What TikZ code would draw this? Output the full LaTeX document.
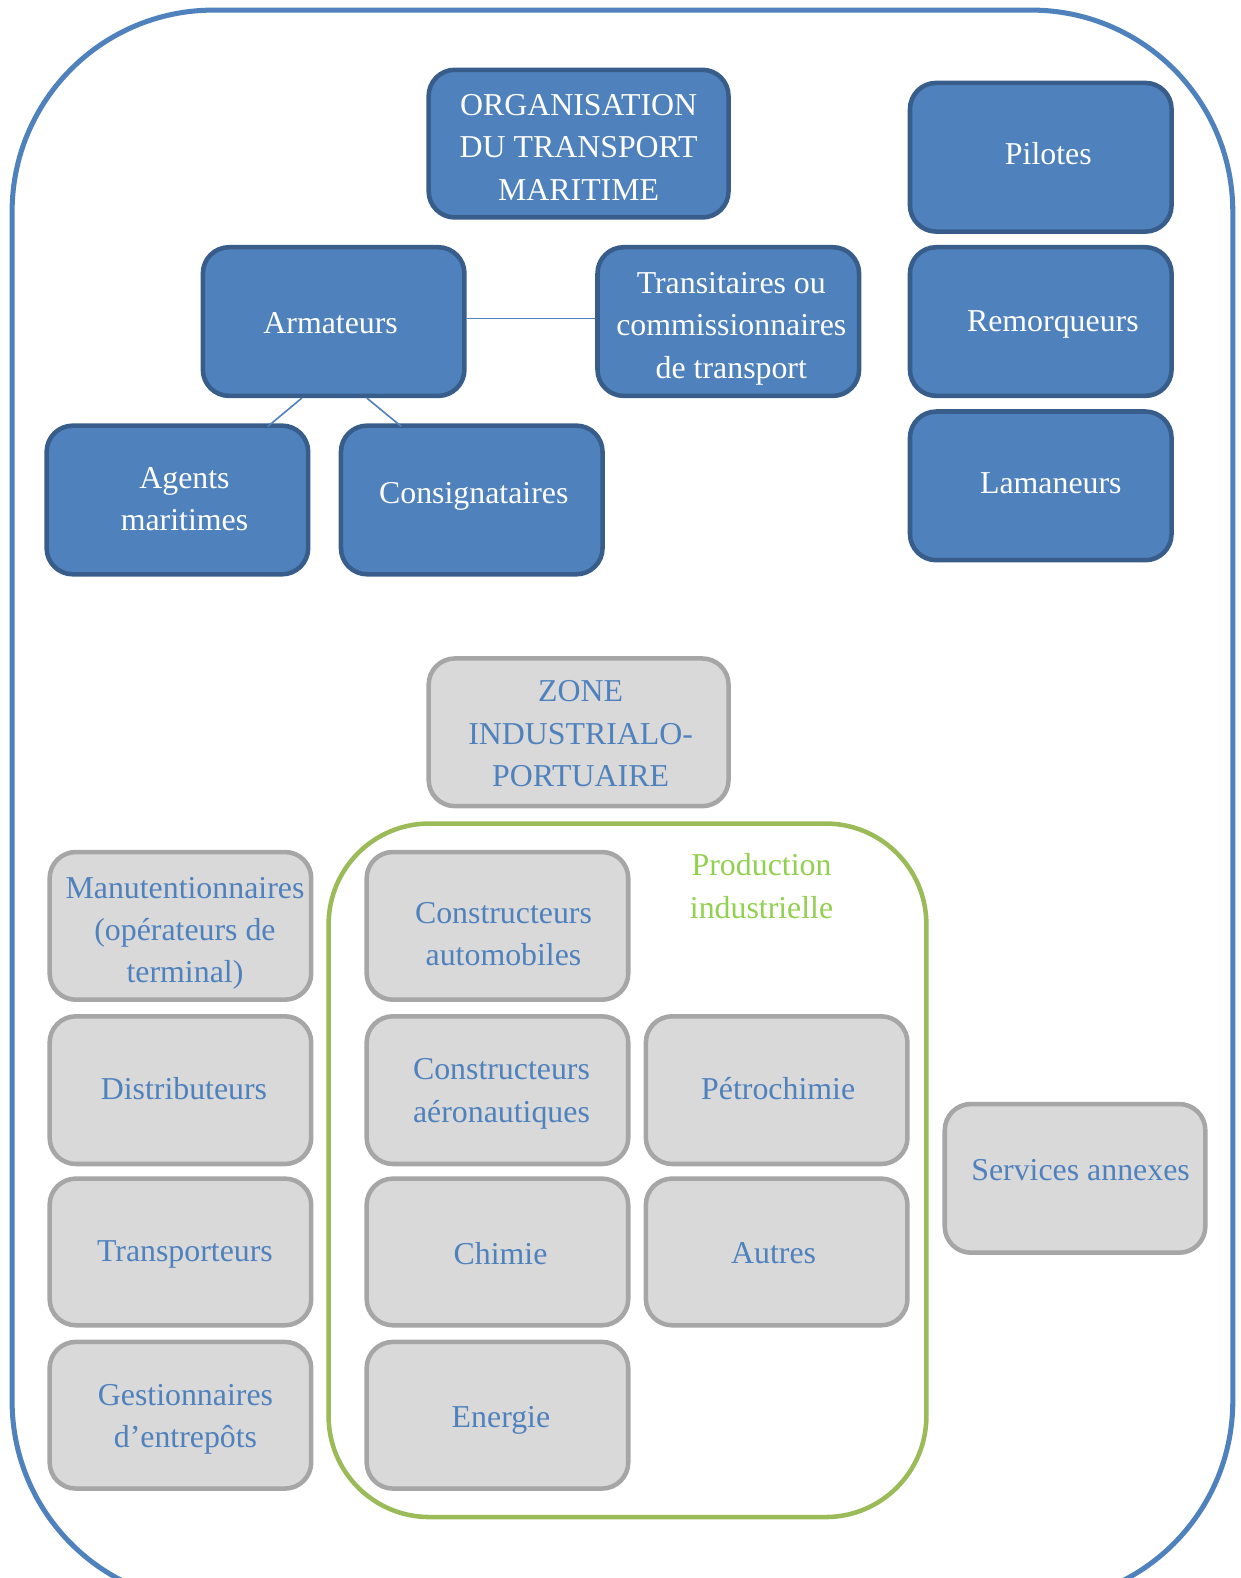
\documentclass[tikz,border=0pt]{standalone}
\usepackage{fontspec}
\setmainfont{Liberation Serif}
\usetikzlibrary{calc}
\definecolor{bfill}{HTML}{4F81BD}
\definecolor{bdraw}{HTML}{385D8A}
\definecolor{gfill}{HTML}{D9D9D9}
\definecolor{gdraw}{HTML}{A6A6A6}
\definecolor{gtext}{HTML}{4F81BD}
\definecolor{prodframe}{HTML}{9BBB59}
\definecolor{prodtext}{HTML}{92D050}
\definecolor{outerframe}{HTML}{4F81BD}
\newcommand{\diagfont}{\fontsize{31.6}{42}\selectfont}
\begin{document}
\begin{tikzpicture}[x=1pt,y=-1pt,
  bluebox/.style={draw=bdraw, fill=bfill, line width=4.5pt, rounded corners=26pt,
    inner sep=0pt, minimum width=259.5pt, minimum height=147.5pt},
  graybox/.style={draw=gdraw, fill=gfill, line width=4.5pt, rounded corners=26pt,
    inner sep=0pt, minimum width=259.5pt, minimum height=146.5pt},
  bluetext/.style={text=white, align=center, inner sep=0pt, font=\diagfont},
  graytext/.style={text=gtext, align=center, inner sep=0pt, font=\diagfont},
  conn/.style={draw=bfill, line width=1.6pt}]
\useasboundingbox (0,0) rectangle (1240,1578);
\clip (0,0) rectangle (1240,1578);
\begin{scope}[transform canvas={scale=1.008}]
\node[draw=outerframe, line width=5pt, rounded corners=200pt, inner sep=0pt,
  minimum width=1211pt, minimum height=1580pt] (outer) at (617.5,800) {};
\node[draw=prodframe, line width=4.5pt, rounded corners=100pt, inner sep=0pt,
  minimum width=593pt, minimum height=688pt] (prod) at (622.5,1161) {};
\node[text=prodtext, font=\diagfont, align=center, inner sep=0pt] (prodlabel) at (755.5,879) {Production\\industrielle};

% blue boxes
\node[bluebox, minimum width=297.5pt, minimum height=146.5pt] (org) at (574,142.5) {};
\node[bluebox] (arm) at (331,319) {};
\node[bluebox] (trans) at (722.5,319) {};
\node[bluebox] (agents) at (176,496) {};
\node[bluebox] (consi) at (468,496) {};
\node[bluebox] (pilotes) at (1032.5,156) {};
\node[bluebox] (remorq) at (1032.5,319) {};
\node[bluebox] (laman) at (1032.5,482) {};

\node[bluetext] (orgt) at (574,146) {ORGANISATION\\DU TRANSPORT\\MARITIME};
\node[bluetext] (armt) at (328,321) {Armateurs};
\node[bluetext] (transt) at (725.5,326) {Transitaires ou\\commissionnaires\\de transport};
\node[bluetext] (agentst) at (183,495) {Agents\\maritimes};
\node[bluetext] (consit) at (470,492) {Consignataires};
\node[bluetext] (pilotest) at (1040,152) {Pilotes};
\node[bluetext] (remorqt) at (1044.5,322) {Remorqueurs};
\node[bluetext] (lamant) at (1042.5,479) {Lamaneurs};

% gray boxes
\node[graybox, minimum width=297.5pt] (zone) at (574,726.5) {};
\node[graybox] (manut) at (179,918.5) {};
\node[graybox] (distrib) at (179,1081.5) {};
\node[graybox, minimum height=145.5pt] (transp) at (179,1242) {};
\node[graybox, minimum height=145.5pt] (gest) at (179,1404) {};
\node[graybox] (auto) at (493.5,918.5) {};
\node[graybox] (aero) at (493.5,1081.5) {};
\node[graybox] (petro) at (770.5,1081.5) {};
\node[graybox, minimum height=145.5pt] (chimie) at (493.5,1242) {};
\node[graybox, minimum height=145.5pt] (autres) at (770.5,1242) {};
\node[graybox, minimum height=145.5pt] (energie) at (493.5,1404) {};
\node[graybox, minimum width=258.5pt, minimum height=147.5pt] (serv) at (1066.5,1169) {};

\node[graytext] (zonet) at (576,728) {ZONE\\INDUSTRIALO-\\PORTUAIRE};
\node[graytext] (manutt) at (183.5,926) {Manutentionnaires\\(opérateurs de\\terminal)};
\node[graytext] (distribt) at (182.5,1080) {Distributeurs};
\node[graytext] (transpt) at (183.5,1244) {Transporteurs};
\node[graytext] (gestt) at (184,1408) {Gestionnaires\\d’entrepôts};
\node[graytext] (autot) at (499.5,927) {Constructeurs\\automobiles};
\node[graytext] (aerot) at (497.5,1085) {Constructeurs\\aéronautiques};
\node[graytext] (petrot) at (772,1080) {Pétrochimie};
\node[graytext] (chimiet) at (496.5,1244) {Chimie};
\node[graytext] (autrest) at (767.5,1243) {Autres};
\node[graytext] (energiet) at (497,1409) {Energie};
\node[graytext] (servt) at (1072,1161) {Services annexes};

% connectors
\draw[conn] ([yshift=3pt]arm.east) -- ([yshift=3pt]trans.west);
\draw[conn] ($(arm.south west)!0.38!(arm.south east)$) -- ($(agents.north west)!0.84!(agents.north east)+(0,3)$);
\draw[conn] ($(arm.south west)!0.625!(arm.south east)$) -- ($(consi.north west)!0.235!(consi.north east)+(0,3)$);
\end{scope}
\end{tikzpicture}
\end{document}
